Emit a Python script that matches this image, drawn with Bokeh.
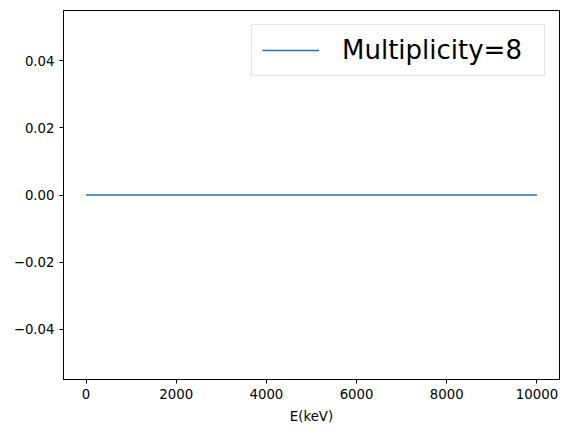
from bokeh.plotting import figure
from bokeh.models import Range1d, FixedTicker, Legend, LegendItem
from bokeh.embed import file_html
from bokeh.resources import INLINE

# data
energy_kev = [0, 2000, 4000, 6000, 8000, 10000]
counts = [0, 0, 0, 0, 0, 0]
series_label = "Multiplicity=8"
x_label = "E(keV)"
x_ticks = [0, 2000, 4000, 6000, 8000, 10000]
y_ticks = [-0.04, -0.02, 0.0, 0.02, 0.04]
y_tick_labels = ["\u22120.04", "\u22120.02", "0.00", "0.02", "0.04"]

FONT = "DejaVu Sans"

p = figure(width=560, height=428, output_backend="svg", toolbar_location=None,
           x_range=Range1d(-500, 10500), y_range=Range1d(-0.055, 0.055),
           min_border_left=63, min_border_right=1, min_border_top=10, min_border_bottom=49)
p.background_fill_color = "white"
p.border_fill_color = "white"
p.outline_line_color = "black"
p.outline_line_width = 1
p.xgrid.visible = False
p.ygrid.visible = False

r = p.line(energy_kev, counts, line_color="#1f77b4", line_width=1.5)

for ax in (p.xaxis[0], p.yaxis[0]):
    ax.axis_line_color = "black"
    ax.major_tick_line_color = "black"
    ax.major_tick_out = 4
    ax.major_tick_in = 0
    ax.minor_tick_line_color = None
    ax.major_label_text_font = FONT
    ax.major_label_text_font_size = "13.3px"
    ax.major_label_text_color = "black"
    ax.major_label_standoff = 5

p.xaxis[0].ticker = FixedTicker(ticks=x_ticks)
p.xaxis[0].major_label_overrides = {t: str(t) for t in x_ticks}
p.yaxis[0].ticker = FixedTicker(ticks=y_ticks)
p.yaxis[0].major_label_overrides = {t: s for t, s in zip(y_ticks, y_tick_labels)}

p.xaxis[0].axis_label = x_label
p.xaxis[0].axis_label_text_font = FONT
p.xaxis[0].axis_label_text_font_size = "13.3px"
p.xaxis[0].axis_label_text_font_style = "normal"
p.xaxis[0].axis_label_text_color = "black"
p.xaxis[0].axis_label_standoff = 7

legend = Legend(items=[LegendItem(label=series_label, renderers=[r])],
                location="top_right", margin=14, padding=10, spacing=0,
                glyph_width=57, glyph_height=30, label_standoff=23, label_width=192,
                label_text_font=FONT, label_text_font_size="26px",
                label_text_color="black", label_text_baseline="middle",
                border_line_color="#cccccc", border_line_width=1,
                background_fill_color="white", background_fill_alpha=0.8)
p.add_layout(legend)

open("out.html", "w").write(file_html(p, INLINE))
